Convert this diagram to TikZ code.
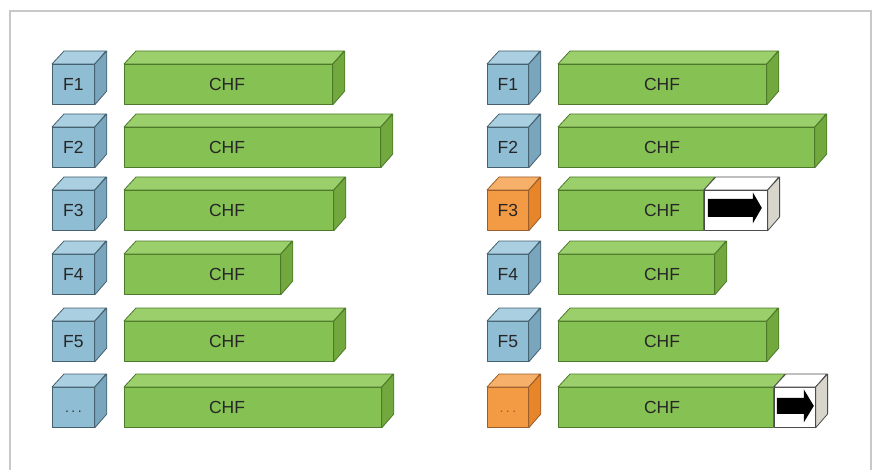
\documentclass[tikz,border=0pt]{standalone}
\usepackage{fontspec}
\setmainfont{Liberation Sans}
\definecolor{bluefront}{HTML}{8FBDD3}
\definecolor{bluetop}{HTML}{A9CFE1}
\definecolor{blueside}{HTML}{79A6BD}
\definecolor{blueedge}{HTML}{45606E}
\definecolor{orfront}{HTML}{F39B44}
\definecolor{ortop}{HTML}{F7B06A}
\definecolor{orside}{HTML}{E6852A}
\definecolor{oredge}{HTML}{9A5E2A}
\definecolor{grfront}{HTML}{86C153}
\definecolor{grtop}{HTML}{9BCF6B}
\definecolor{grside}{HTML}{72A83E}
\definecolor{gredge}{HTML}{4D7A2A}
\definecolor{whside}{HTML}{D8D5CC}
\definecolor{framecol}{HTML}{C8C8C8}
\tikzset{
  frontbox/.style={rectangle, inner sep=0pt, minimum height=40pt, anchor=north west, line width=0.8pt, line join=round},
  facepath/.style={line width=0.8pt, line join=round},
  lbl/.style={font=\fontsize{17.5}{20}\selectfont, text=black!85},
  dots/.style={font=\fontsize{14}{16}\selectfont},
}
% #1 name, #2 x, #3 y, #4 width, #5 front, #6 top, #7 side, #8 edge
\newcommand\solidbox[8]{%
  \node[frontbox, fill=#5, draw=#8, minimum width=#4pt] (#1) at (#2,#3) {};
  \draw[facepath, fill=#6, draw=#8] (#1.north west) -- ++(12,-13) -- ++(#4,0) -- (#1.north east) -- cycle;
  \draw[facepath, fill=#7, draw=#8] (#1.north east) -- ++(12,-13) -- ++(0,40) -- (#1.south east) -- cycle;
}
% split bar: #1 name, #2 x, #3 y, #4 green width, #5 white width
\newcommand\splitbar[5]{%
  \node[frontbox, fill=grfront, draw=gredge, minimum width=#4pt] (#1g) at (#2,#3) {};
  \node[frontbox, fill=white, draw=black!70, minimum width=#5pt] (#1w) at (#1g.north east) {};
  \draw[facepath, fill=grtop, draw=gredge] (#1g.north west) -- ++(12,-13) -- ++(#4,0) -- (#1g.north east) -- cycle;
  \draw[facepath, fill=white, draw=black!70] (#1w.north west) -- ++(12,-13) -- ++(#5,0) -- (#1w.north east) -- cycle;
  \draw[facepath, fill=whside, draw=black!70] (#1w.north east) -- ++(12,-13) -- ++(0,40) -- (#1w.south east) -- cycle;
}
\begin{document}
\begin{tikzpicture}[x=1pt,y=-1pt]
\useasboundingbox (0,0) rectangle (874,470);
\draw[framecol, line width=1.6pt] (10,480) -- (10,11) -- (871,11) -- (871,480);

% left column
\foreach \n/\y/\w/\t in {1/64/208/F1, 2/127/256/F2, 3/190/209/F3, 4/254/156/F4, 5/321/209/F5, 6/387/257/{}} {
  \solidbox{lc\n}{52}{\y}{42}{bluefront}{bluetop}{blueside}{blueedge}
  \solidbox{lb\n}{124}{\y}{\w}{grfront}{grtop}{grside}{gredge}
  \node[lbl] (lt\n) at ([xshift=103pt]lb\n.west) {CHF};
  \node[lbl] (lf\n) at (lc\n) {\t};
}
\node[dots, text=black!80] (ldots) at ([yshift=-4pt]lc6) {.\hspace{2.5pt}.\hspace{2.5pt}.};

% right column
\foreach \n/\y/\w/\t in {1/64/208/F1, 2/127/256/F2, 4/254/156/F4, 5/321/208/F5} {
  \solidbox{rc\n}{487}{\y}{41}{bluefront}{bluetop}{blueside}{blueedge}
  \solidbox{rb\n}{558}{\y}{\w}{grfront}{grtop}{grside}{gredge}
  \node[lbl] (rt\n) at ([xshift=104pt]rb\n.west) {CHF};
  \node[lbl] (rf\n) at (rc\n) {\t};
}
\solidbox{rc3}{487}{190}{41}{orfront}{ortop}{orside}{oredge}
\node[lbl] (rf3) at (rc3) {F3};
\splitbar{rb3}{558}{190}{145}{63}
\node[lbl] (rt3) at ([xshift=104pt]rb3g.west) {CHF};
\fill[black] (rb3w.west) ++(4,-11.5) -- ++(45,0) -- ++(0,-6.5) -- ++(9,15.5) -- ++(-9,15.5) -- ++(0,-6.5) -- ++(-45,0) -- cycle;

\solidbox{rc6}{487}{387}{41}{orfront}{ortop}{orside}{oredge}
\node[dots, text=oredge] (rdots) at ([yshift=-4pt]rc6) {.\hspace{2.5pt}.\hspace{2.5pt}.};
\splitbar{rb6}{558}{387}{215}{41}
\node[lbl] (rt6) at ([xshift=104pt]rb6g.west) {CHF};
\fill[black] (rb6w.west) ++(3,-9.5) -- ++(27,0) -- ++(0,-8.5) -- ++(10,16.5) -- ++(-10,16.5) -- ++(0,-8.5) -- ++(-27,0) -- cycle;
\end{tikzpicture}
\end{document}
